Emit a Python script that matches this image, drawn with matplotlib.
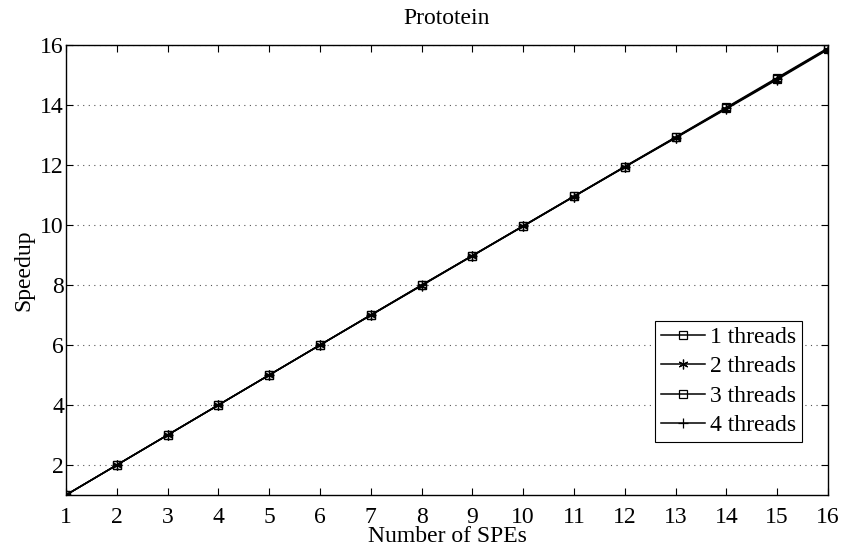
import matplotlib
matplotlib.use("Agg")
import matplotlib.pyplot as plt

spes = list(range(1, 17))
t1 = [1, 2, 3, 4, 5, 6, 7, 8, 8.98, 9.97, 10.96, 11.94, 12.92, 13.90, 14.88, 15.87]
t2 = [1, 2, 3, 4, 5, 6, 6.99, 7.98, 8.97, 9.96, 10.95, 11.93, 12.90, 13.87, 14.85, 15.85]
t3 = [1, 2, 3, 4, 5, 6, 7, 7.99, 8.98, 9.97, 10.96, 11.95, 12.93, 13.92, 14.91, 15.90]
t4 = [1, 2, 3, 4, 5, 6, 7, 7.99, 8.98, 9.96, 10.95, 11.94, 12.91, 13.89, 14.88, 15.88]
labels = ["1 threads", "2 threads", "3 threads", "4 threads"]
markers = ["s", (6, 2, 0), "s", "+"]
yticks = [2, 4, 6, 8, 10, 12, 14, 16]

FS = 17
plt.rcParams['font.family'] = ['Liberation Serif', 'DejaVu Serif']
fig = plt.figure(figsize=(8.43, 5.5), dpi=100)
ax = fig.add_axes([66/843, 1-495/550, (828-66)/843, (495-45)/550])

for s, lab, m in zip([t1, t2, t3, t4], labels, markers):
    ax.plot(spes, s, color='black', lw=1.1, marker=m, markersize=7 if m != 's' else 5.5,
            markerfacecolor='none', markeredgecolor='black', markeredgewidth=0.9, label=lab)

ax.set_xlim(1, 16)
ax.set_ylim(1, 16)
ax.set_xticks(spes)
ax.set_yticks(yticks)
ax.tick_params(direction='in', top=True, right=True, labelsize=FS, length=5, width=0.8)
ax.tick_params(axis='x', pad=8.5)
ax.tick_params(axis='y', pad=1.5)
ax.yaxis.grid(True, linestyle=(0, (1, 4)), color='#555555', lw=0.8)
for sp in ax.spines.values():
    sp.set_linewidth(1.0)
ax.set_xlabel("Number of SPEs", fontsize=FS, labelpad=-1)
ax.set_ylabel("Speedup", fontsize=FS, labelpad=4)
ax.set_title("Prototein", fontsize=FS, pad=15)
leg = ax.legend(loc='lower right', bbox_to_anchor=(802/843, 1-442/550), bbox_transform=fig.transFigure,
                fontsize=FS, frameon=True, fancybox=False, edgecolor='black', framealpha=1,
                handlelength=1.86, handletextpad=0.2, borderpad=0.25, labelspacing=0.33, borderaxespad=0)
leg.get_frame().set_linewidth(0.8)
fig.savefig("out.png", dpi=100)
